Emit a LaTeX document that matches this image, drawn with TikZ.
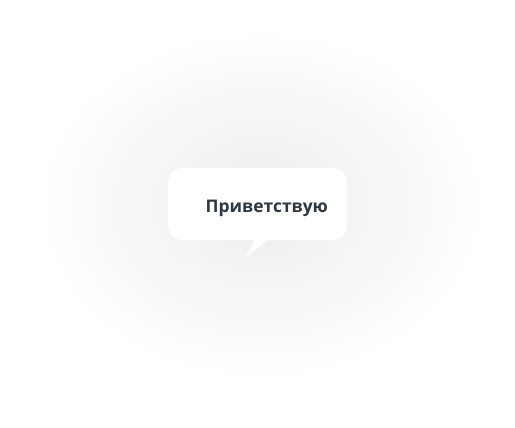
\documentclass[tikz,border=0pt]{standalone}
\usepackage{fontspec}
\setmainfont{Open Sans}
\definecolor{txt}{RGB}{47,56,66}
\tikzset{
  bubble/.style={fill=white, rounded corners=15pt},
  label/.style={font=\fontsize{17.4}{22}\selectfont\bfseries, text=txt, inner sep=0pt, anchor=base west}
}
\begin{document}
\begin{tikzpicture}[x=1pt,y=-1pt]
\useasboundingbox[fill=white] (0,0) rectangle (515,428);
\foreach \k in {1,...,16}{
  \pgfmathsetmacro{\p}{0.37*\k}
  \pgfmathsetmacro{\rx}{216-11*(\k-1)}
  \pgfmathsetmacro{\ry}{0.78*\rx}
  \fill[black!\p!white] (262,205) ellipse [x radius=\rx, y radius=\ry];
}
\fill[bubble] (168,168) rectangle (347,240);
\fill[white] (255,239) -- (245.5,258) .. controls (255,250) .. (268,239) -- cycle;
\node[label] (t) at (205.5,212) {Приветствую};
\end{tikzpicture}
\end{document}
